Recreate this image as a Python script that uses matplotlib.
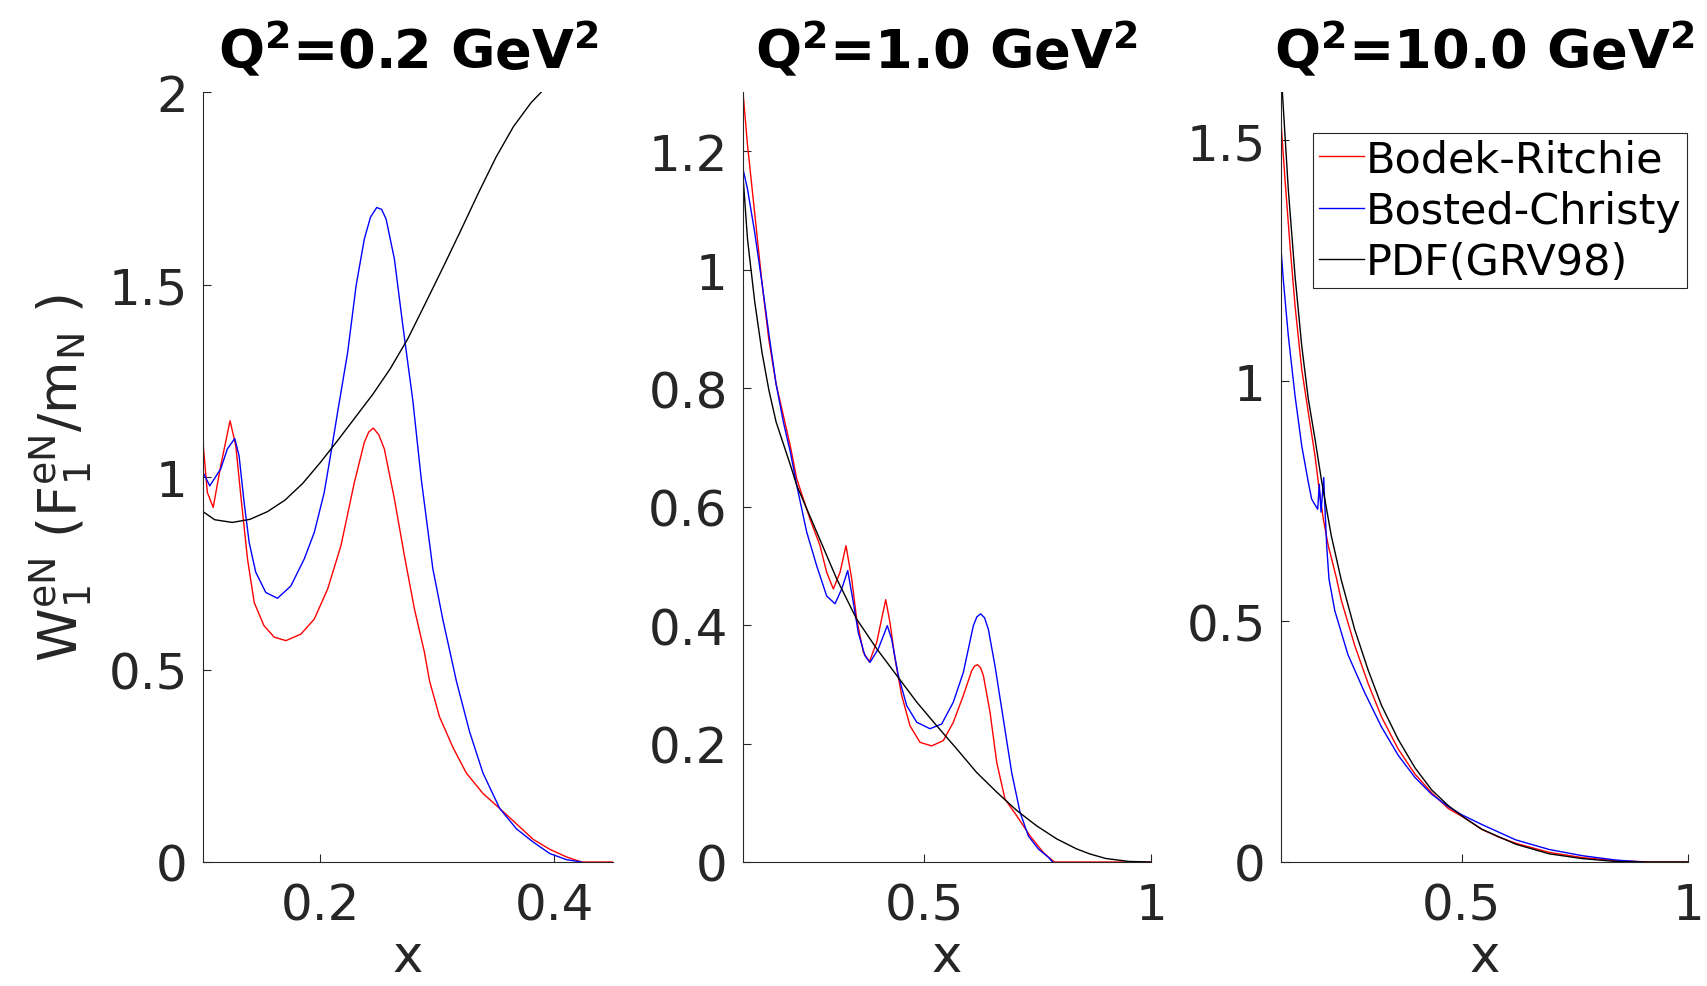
import matplotlib
matplotlib.use("Agg")
import matplotlib.pyplot as plt
from matplotlib.ticker import FuncFormatter

plt.rcParams['font.family'] = ['DejaVu Sans']
plt.rcParams['mathtext.fontset'] = 'dejavusans'

# ---------------- data: Q^2 = 0.2 GeV^2 ----------------
x_br_02 = [0.100, 0.1037, 0.1087, 0.1151, 0.1231, 0.128, 0.1323, 0.138, 0.1437, 0.152,
           0.1608, 0.1708, 0.1836, 0.195, 0.2064, 0.2178, 0.2292, 0.2377, 0.2415, 0.2454,
           0.2500, 0.2548, 0.2634, 0.2719, 0.2805, 0.289, 0.2934, 0.3019, 0.3133, 0.3248,
           0.339, 0.3533, 0.3676, 0.3818, 0.396, 0.4104, 0.4232, 0.45]
y_br_02 = [1.09, 0.96, 0.921, 1.029, 1.146, 1.081, 0.951, 0.787, 0.674, 0.614,
           0.584, 0.575, 0.592, 0.631, 0.709, 0.822, 0.986, 1.09, 1.117, 1.127,
           1.110, 1.073, 0.943, 0.796, 0.657, 0.545, 0.47, 0.377, 0.298, 0.231,
           0.178, 0.139, 0.099, 0.059, 0.033, 0.013, 0.0, 0.0]
x_bc_02 = [0.100, 0.1058, 0.1151, 0.1208, 0.1271, 0.1308, 0.1351, 0.1394, 0.145, 0.1536,
           0.1636, 0.175, 0.1864, 0.195, 0.2035, 0.2093, 0.2149, 0.2235, 0.2307, 0.2377,
           0.2430, 0.2483, 0.2525, 0.2563, 0.2634, 0.2706, 0.2791, 0.2863, 0.2962, 0.3048,
           0.3163, 0.3276, 0.339, 0.3533, 0.3676, 0.3818, 0.396, 0.4104, 0.4232]
y_bc_02 = [1.012, 0.977, 1.021, 1.073, 1.100, 1.055, 0.934, 0.830, 0.753, 0.700,
           0.685, 0.717, 0.787, 0.856, 0.960, 1.064, 1.168, 1.324, 1.497, 1.618,
           1.675, 1.700, 1.695, 1.670, 1.566, 1.393, 1.199, 0.995, 0.762, 0.629,
           0.470, 0.338, 0.231, 0.139, 0.086, 0.052, 0.022, 0.006, 0.0]
x_pdf_02 = [0.100, 0.110, 0.125, 0.140, 0.155, 0.170, 0.185, 0.200, 0.215, 0.230,
            0.245, 0.260, 0.275, 0.290, 0.305, 0.320, 0.335, 0.350, 0.365, 0.380, 0.3904]
y_pdf_02 = [0.910, 0.889, 0.882, 0.890, 0.910, 0.940, 0.983, 1.037, 1.095, 1.155,
            1.215, 1.282, 1.360, 1.452, 1.545, 1.640, 1.737, 1.830, 1.910, 1.972, 2.005]

# ---------------- data: Q^2 = 1.0 GeV^2 ----------------
x_br_10 = [0.100, 0.110, 0.126, 0.142, 0.157, 0.173, 0.189, 0.205, 0.2185, 0.2478,
           0.27, 0.2846, 0.2993, 0.314, 0.3272, 0.3398, 0.3508, 0.3655, 0.3787, 0.395,
           0.4148, 0.4243, 0.4353, 0.4501, 0.4684, 0.4905, 0.5162, 0.5419, 0.564, 0.586,
           0.6045, 0.611, 0.6177, 0.624, 0.6302, 0.6449, 0.6597, 0.678, 0.7038, 0.7332,
           0.7626, 0.7773, 0.787, 1.0]
y_br_10 = [1.30, 1.21, 1.094, 0.977, 0.882, 0.807, 0.754, 0.700, 0.647, 0.579,
           0.534, 0.489, 0.461, 0.489, 0.534, 0.478, 0.410, 0.354, 0.338, 0.371,
           0.443, 0.404, 0.343, 0.281, 0.230, 0.202, 0.196, 0.205, 0.236, 0.281,
           0.323, 0.331, 0.333, 0.328, 0.315, 0.253, 0.168, 0.106, 0.078, 0.044,
           0.016, 0.006, 0.0, 0.0]
x_bc_10 = [0.100, 0.110, 0.126, 0.142, 0.157, 0.173, 0.189, 0.205, 0.2185, 0.2405,
           0.2626, 0.2846, 0.303, 0.3177, 0.331, 0.3434, 0.3544, 0.3691, 0.3802, 0.3985,
           0.4183, 0.428, 0.4426, 0.4611, 0.4832, 0.5125, 0.5383, 0.564, 0.586, 0.6081,
           0.616, 0.6244, 0.633, 0.6412, 0.6559, 0.6743, 0.6927, 0.7111, 0.7294, 0.7515,
           0.7735, 0.783]
y_bc_10 = [1.17, 1.136, 1.062, 0.977, 0.892, 0.807, 0.743, 0.69, 0.636, 0.557,
           0.500, 0.449, 0.436, 0.461, 0.492, 0.438, 0.387, 0.348, 0.337, 0.360,
           0.399, 0.376, 0.315, 0.264, 0.236, 0.225, 0.233, 0.270, 0.320, 0.399,
           0.414, 0.419, 0.412, 0.393, 0.331, 0.241, 0.151, 0.084, 0.044, 0.022,
           0.008, 0.0]
x_pdf_10 = [0.100, 0.110, 0.126, 0.142, 0.157, 0.173, 0.205, 0.2185, 0.2626, 0.3067,
            0.3508, 0.395, 0.4391, 0.4832, 0.5273, 0.5714, 0.6156, 0.6597, 0.7038, 0.7479,
            0.792, 0.8362, 0.8655, 0.90, 0.95, 1.0]
y_pdf_10 = [1.158, 1.051, 0.945, 0.860, 0.797, 0.743, 0.669, 0.636, 0.557, 0.478,
            0.410, 0.360, 0.315, 0.270, 0.230, 0.191, 0.151, 0.118, 0.087, 0.061,
            0.039, 0.022, 0.0135, 0.006, 0.001, 0.0]

# ---------------- data: Q^2 = 10.0 GeV^2 ----------------
x_br_100 = [0.100, 0.1088, 0.1199, 0.131, 0.1458, 0.1604, 0.1752, 0.1825, 0.1862, 0.1935,
            0.2046, 0.2231, 0.233, 0.263, 0.293, 0.322, 0.359, 0.396, 0.433, 0.470,
            0.507, 0.544, 0.581, 0.619, 0.693, 0.767, 0.841, 0.915, 1.0]
y_br_100 = [1.537, 1.419, 1.281, 1.156, 1.024, 0.934, 0.844, 0.789, 0.761, 0.713,
            0.657, 0.588, 0.545, 0.450, 0.370, 0.302, 0.235, 0.183, 0.144, 0.111,
            0.091, 0.068, 0.052, 0.039, 0.020, 0.009, 0.003, 0.0, 0.0]
x_bc_100 = [0.100, 0.105, 0.1161, 0.131, 0.1458, 0.1604, 0.1678, 0.1811, 0.1847, 0.1885,
            0.1944, 0.197, 0.201, 0.2061, 0.219, 0.248, 0.285, 0.322, 0.359, 0.396,
            0.433, 0.470, 0.500, 0.544, 0.619, 0.693, 0.767, 0.841, 0.900]
y_bc_100 = [1.274, 1.211, 1.094, 0.969, 0.865, 0.789, 0.754, 0.733, 0.785, 0.727,
            0.799, 0.740, 0.657, 0.588, 0.522, 0.431, 0.352, 0.281, 0.222, 0.176,
            0.141, 0.115, 0.098, 0.078, 0.046, 0.026, 0.013, 0.004, 0.0]
x_pdf_100 = [0.100, 0.103, 0.1161, 0.131, 0.1458, 0.1604, 0.1752, 0.189, 0.211, 0.233,
             0.263, 0.293, 0.322, 0.359, 0.396, 0.433, 0.470, 0.507, 0.544, 0.619,
             0.693, 0.767, 0.841, 0.90, 1.0]
y_pdf_100 = [1.68, 1.60, 1.398, 1.218, 1.073, 0.962, 0.879, 0.796, 0.679, 0.587,
             0.483, 0.398, 0.326, 0.255, 0.196, 0.150, 0.117, 0.091, 0.068, 0.037,
             0.017, 0.007, 0.001, 0.0, 0.0]

titles = ['0.2', '1.0', '10.0']
series_names = ['Bodek-Ritchie', 'Bosted-Christy', 'PDF(GRV98)']
series_colors = ['#ff0000', '#0000ff', '#000000']

panels = [
    dict(br=(x_br_02, y_br_02), bc=(x_bc_02, y_bc_02), pdf=(x_pdf_02, y_pdf_02),
         xlim=(0.1, 0.45), ylim=(0, 2), xt=[0.2, 0.4], yt=[0, 0.5, 1, 1.5, 2]),
    dict(br=(x_br_10, y_br_10), bc=(x_bc_10, y_bc_10), pdf=(x_pdf_10, y_pdf_10),
         xlim=(0.1, 1.0), ylim=(0, 1.3), xt=[0.5, 1], yt=[0, 0.2, 0.4, 0.6, 0.8, 1, 1.2]),
    dict(br=(x_br_100, y_br_100), bc=(x_bc_100, y_bc_100), pdf=(x_pdf_100, y_pdf_100),
         xlim=(0.1, 1.0), ylim=(0, 1.6), xt=[0.5, 1], yt=[0, 0.5, 1, 1.5]),
]

W, H = 1708, 987
fig = plt.figure(figsize=(W / 100, H / 100), dpi=100)
lefts = [203, 743, 1281]
widths = [410, 408, 407]
top_px, bot_px = 93, 863

fmt = FuncFormatter(lambda v, p: '%g' % v)
axc = '#262626'

for i, p in enumerate(panels):
    ax = fig.add_axes([lefts[i] / W, 1 - bot_px / H, widths[i] / W, (bot_px - top_px) / H])
    lines = []
    for key, c in zip(['br', 'bc', 'pdf'], series_colors):
        xs, ys = p[key]
        l, = ax.plot(xs, ys, color=c, lw=1.0)
        lines.append(l)
    ax.set_xlim(*p['xlim'])
    ax.set_ylim(*p['ylim'])
    ax.set_xticks(p['xt'])
    ax.set_yticks(p['yt'])
    ax.xaxis.set_major_formatter(fmt)
    ax.yaxis.set_major_formatter(fmt)
    for s in ['top', 'right']:
        ax.spines[s].set_visible(False)
    for s in ['left', 'bottom']:
        ax.spines[s].set_color(axc)
        ax.spines[s].set_linewidth(0.8)
    ax.tick_params(direction='in', length=6, width=0.8, colors=axc, labelsize=36)
    ax.tick_params(axis='y', pad=11)
    ax.tick_params(axis='x', pad=14)
    ax.set_xlabel('x', fontsize=37, color=axc, labelpad=2)
    ax.set_title(r'$\mathbf{Q^2}$=' + titles[i] + r' GeV$\mathbf{^2}$',
                 fontsize=39, fontweight='bold', pad=18)
    if i == 0:
        ax.set_ylabel(r'$\mathregular{W_1^{eN}\ (F_1^{eN}/m_N\ )}$', fontsize=39,
                      color=axc, labelpad=10)
    if i == 2:
        leg = ax.legend(lines, series_names, loc='upper right',
                        bbox_to_anchor=(0.9975, 0.9468), borderaxespad=0,
                        fontsize=31, handlelength=1.05, handletextpad=0.05,
                        labelspacing=0.22, borderpad=0.12, fancybox=False,
                        framealpha=1, edgecolor=axc)
        leg.get_frame().set_linewidth(0.8)

fig.savefig('out.png', dpi=100)
